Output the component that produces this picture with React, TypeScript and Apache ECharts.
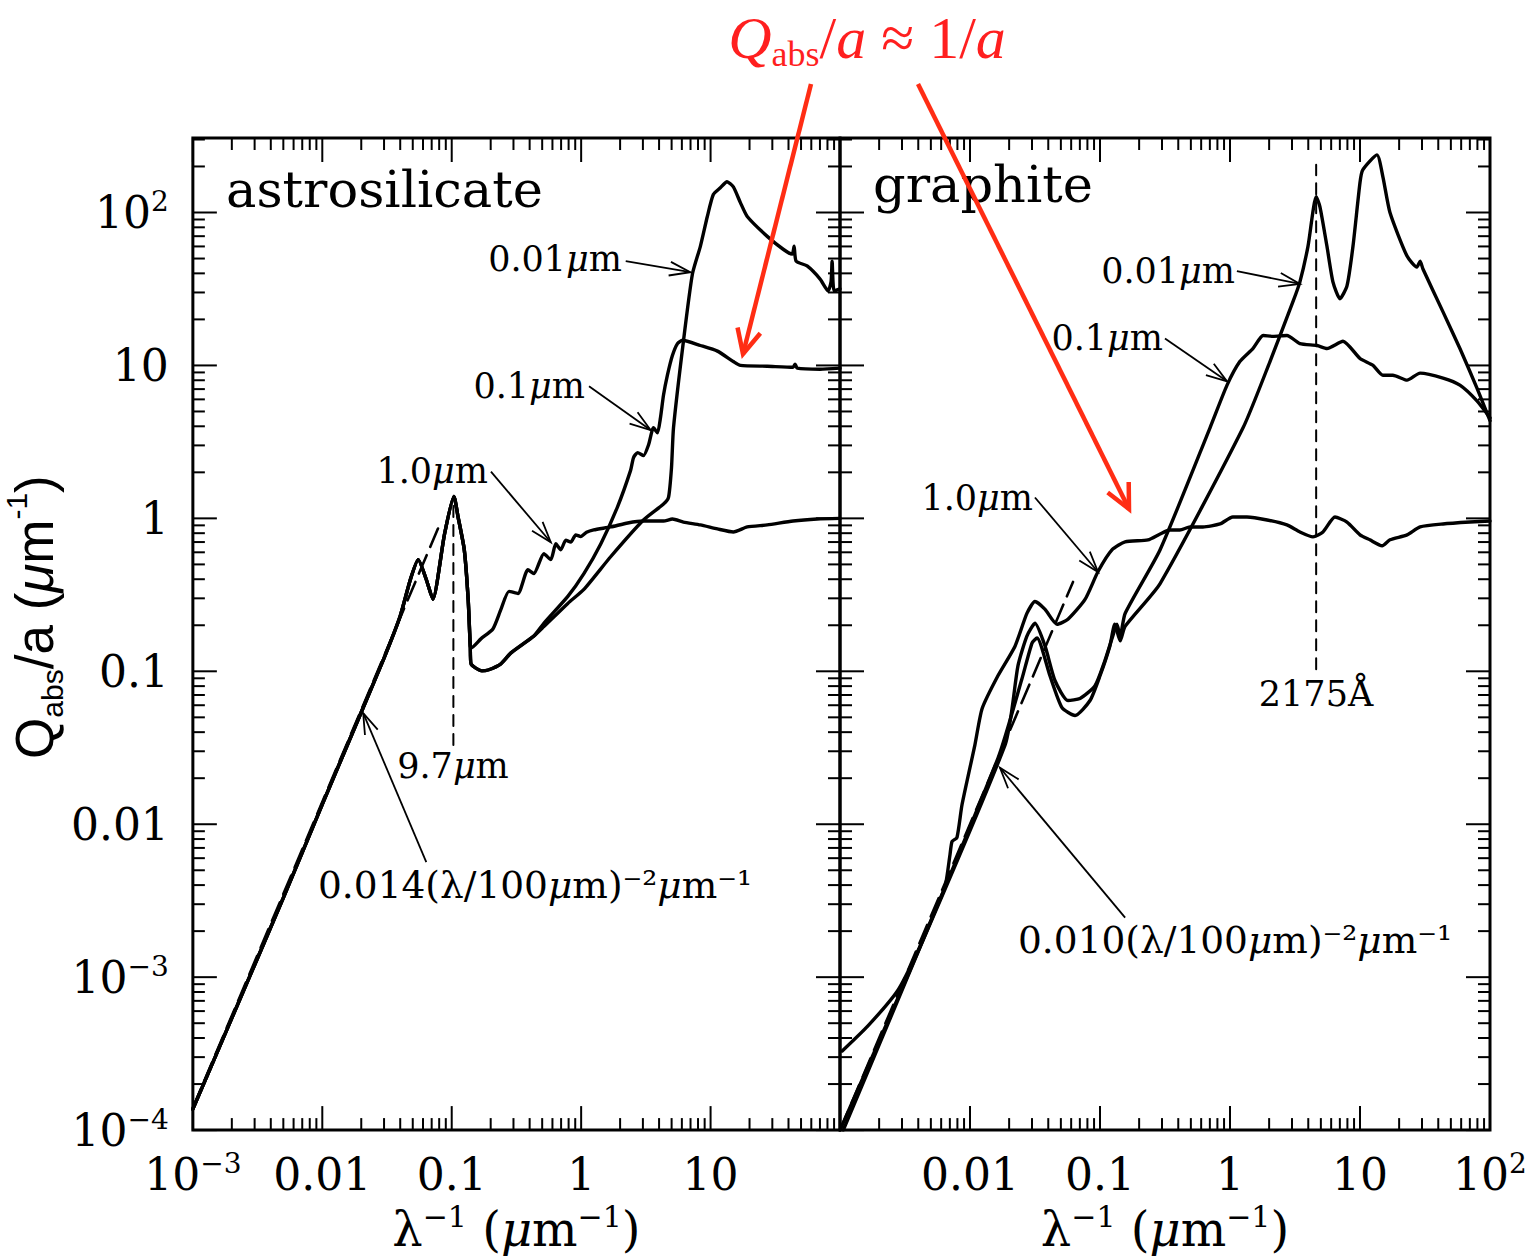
import React, { useEffect, useRef } from "react";
import * as echarts from "echarts";

// ---------- axis structure ----------
const X_MIN = 0.001;
const X_MAX = 100;
const Y_MIN = 1e-4;
const Y_MAX = 307;

const majorXTicks = [0.001, 0.01, 0.1, 1, 10, 100];
const majorYTicks = [1e-4, 1e-3, 0.01, 0.1, 1, 10, 100];
const minorTickSteps = [2, 3, 4, 5, 6, 7, 8, 9];
const leftXTickLabels = ["{b|10}{s|−3}", "{b|0.01}", "{b|0.1}", "{b|1}", "{b|10}", ""];
const rightXTickLabels = ["", "{b|0.01}", "{b|0.1}", "{b|1}", "{b|10}", "{b|10}{s|2}"];
const yTickLabels = ["{b|10}{s|−4}", "{b|10}{s|−3}", "{b|0.01}", "{b|0.1}", "{b|1}", "{b|10}", "{b|10}{s|2}"];

// ---------- astrosilicate (x = 1/lambda in um^-1, y = Qabs/a in um^-1) ----------
const silicateShared = [
  [0.001, 1.37e-4], [0.002, 5.4e-4], [0.005, 0.0033], [0.01, 0.0135], [0.02, 0.054],
  [0.03, 0.122], [0.04, 0.23], [0.048, 0.4], [0.0551, 0.537], [0.0635, 0.4], [0.0715, 0.296],
  [0.088, 0.79], [0.104, 1.39], [0.112, 1.02], [0.125, 0.624], [0.134, 0.295], [0.139, 0.146],
];
const silicateSmallShared = [
  [0.141, 0.112], [0.171, 0.1007], [0.191, 0.102], [0.24, 0.112], [0.287, 0.132], [0.431, 0.17],
];
const silicate1um = [
  [0.141, 0.142], [0.168, 0.163], [0.208, 0.189], [0.24, 0.254], [0.277, 0.333], [0.325, 0.323],
  [0.388, 0.462], [0.431, 0.435], [0.515, 0.587], [0.583, 0.537], [0.637, 0.682], [0.696, 0.623],
  [0.761, 0.72], [0.832, 0.7], [0.908, 0.78], [0.993, 0.76], [1.1, 0.81], [1.25, 0.84], [1.69, 0.879],
  [2.29, 0.933], [3.03, 0.961], [4.33, 0.961], [5.07, 0.99], [6.17, 0.946], [8.34, 0.906],
  [11.3, 0.853], [15.0, 0.815], [19.2, 0.879], [27.4, 0.906], [43.4, 0.961], [66.5, 0.99], [100, 1.0],
];
const silicate01um = [
  [0.515, 0.206], [0.789, 0.309], [1.05, 0.435], [1.42, 0.683], [1.91, 1.19], [2.41, 2.06],
  [2.54, 2.5], [2.73, 2.69], [3.03, 2.57], [3.32, 3.03], [3.62, 3.91], [3.89, 3.63], [4.1, 4.54],
  [4.33, 6.4], [4.64, 8.63], [5.07, 11.6], [5.55, 13.9], [6.06, 14.6], [8.34, 13.5], [11.3, 12.4],
  [15.0, 10.6], [17.0, 10.0], [27.4, 9.88], [43.4, 9.73], [45.0, 10.2], [46.7, 9.6], [70.2, 9.45],
  [100, 9.6],
];
const silicate001um = [
  [0.515, 0.196], [0.789, 0.278], [1.05, 0.343], [1.69, 0.561], [3.03, 0.975], [4.33, 1.24],
  [4.73, 1.37], [4.99, 2.15], [5.17, 3.91], [6.17, 14.4], [7.24, 39.6], [8.34, 60.1], [9.44, 94.2],
  [10.5, 131], [11.9, 145], [13.4, 159], [15.0, 147], [17.0, 116], [19.2, 94.2], [27.4, 69.8],
  [36.4, 57.5], [42.7, 53.4], [44.2, 60.1], [45.8, 48.1], [55.7, 44.7], [70.2, 36.7], [80.9, 30.7],
  [85.3, 35.2], [86.9, 48.1], [90.0, 30.7], [100, 31.7],
];
const silicatePowerLaw = [[0.001, 1.4e-4], [0.08, 0.896]];
const silicate97Marker = [[0.103, 0.033], [0.103, 1.39]];

// ---------- graphite ----------
const graphite1um = [
  [0.00104, 3.29e-4], [0.00164, 4.8e-4], [0.00279, 8.22e-4], [0.00398, 1.49e-3], [0.00538, 2.72e-3],
  [0.00643, 3.9e-3], [0.00702, 6.35e-3], [0.00728, 7.72e-3], [0.00794, 8.19e-3], [0.00868, 0.0134],
  [0.0109, 0.0329], [0.0124, 0.0571], [0.0164, 0.0935], [0.0222, 0.146], [0.0274, 0.239],
  [0.0316, 0.286], [0.0378, 0.254], [0.0467, 0.203], [0.0567, 0.219], [0.0767, 0.295],
  [0.0966, 0.449], [0.124, 0.624], [0.156, 0.703], [0.234, 0.724], [0.29, 0.791], [0.345, 0.839],
  [0.412, 0.839], [0.492, 0.879], [0.619, 0.879], [0.838, 0.919], [1.05, 1.02], [1.35, 1.02],
  [1.93, 0.976], [2.74, 0.906], [3.45, 0.815], [4.35, 0.757], [5.19, 0.815], [6.42, 1.02],
  [7.94, 0.946], [10, 0.78], [11.9, 0.724], [14.8, 0.662], [17.0, 0.724], [23.0, 0.78],
  [29.0, 0.879], [43.5, 0.919], [70.2, 0.946], [100, 0.961],
];
const graphite01um = [
  [0.001, 1.0e-4], [0.0186, 0.0329], [0.0234, 0.109], [0.0274, 0.17], [0.0316, 0.206],
  [0.0378, 0.146], [0.0451, 0.0867], [0.0567, 0.0644], [0.0702, 0.0664], [0.0916, 0.0805],
  [0.109, 0.117], [0.124, 0.165], [0.135, 0.203], [0.143, 0.17], [0.156, 0.239], [0.29, 0.624],
  [0.702, 3.91], [0.949, 7.43], [1.19, 10.6], [1.5, 12.9], [1.8, 15.7], [2.14, 15.5], [2.74, 15.7],
  [3.45, 13.9], [4.67, 13.5], [5.57, 12.9], [7.4, 14.4], [10, 11.1], [12.6, 10.0], [15.0, 8.63],
  [17.9, 8.63], [23.0, 8.01], [29.0, 8.9], [43.5, 8.26], [58.7, 7.43], [79.4, 5.86], [100, 4.54],
];
const graphite001um = [
  [0.00106, 1.0e-4], [0.0164, 0.027], [0.0251, 0.0893], [0.03, 0.153], [0.0328, 0.165],
  [0.0412, 0.0935], [0.051, 0.0579], [0.0643, 0.0514], [0.0838, 0.0644], [0.1, 0.0935],
  [0.119, 0.146], [0.13, 0.203], [0.143, 0.158], [0.156, 0.197], [0.29, 0.375], [1.26, 3.91],
  [2.03, 10.6], [3.05, 26.1], [3.45, 35.2], [3.98, 60.1], [4.6, 127], [4.92, 109], [5.57, 60.1],
  [6.19, 35.2], [7.01, 27.3], [7.94, 33.1], [8.83, 60.1], [10, 157], [10.5, 190], [13.5, 238],
  [15.0, 171], [17.0, 100], [23.0, 51.9], [27.4, 44.0], [29.0, 48.1], [30.5, 42.7], [43.5, 22.4],
  [58.7, 12.9], [79.4, 7.11], [100, 4.35],
];
const graphitePowerLaw = [[0.001, 1.0e-4], [0.062, 0.384]];
const graphite2175Marker = [[4.6, 0.103], [4.6, 205]];

// ---------- annotation arrows (tail x, tail y, head x, head y in data units) ----------
const silicateArrows = [
  [2.21, 48.1, 6.98, 40.7],
  [1.15, 7.31, 3.44, 3.78],
  [0.201, 2.02, 0.583, 0.698],
  [0.0636, 0.00566, 0.0207, 0.0533],
];
const graphiteArrows = [
  [1.13, 41.4, 3.45, 34.1],
  [0.316, 15.0, 0.949, 7.87],
  [0.0316, 1.37, 0.0966, 0.446],
  [0.156, 0.00245, 0.017, 0.0234],
];

const SERIF = "'DejaVu Serif', 'Liberation Serif', serif";
const SANS = "'Liberation Sans', 'DejaVu Sans', sans-serif";
const TIMES = "'Liberation Serif', 'DejaVu Serif', serif";
const RED_TEXT = "#ff1f1f";
const RED_LINE = "#ff2d14";
const CURVE_WIDTH = 3.4;

function labelFormatter(labels: string[], offset: number) {
  return (v: number) => {
    const e = Math.log10(v);
    const r = Math.round(e);
    if (Math.abs(e - r) > 1e-4) return "";
    return labels[r + offset] ?? "";
  };
}

function buildTickData() {
  const d: number[][] = [];
  for (const v of majorXTicks) d.push([v, Y_MIN, 0, 1]);
  for (let e = -3; e < 2; e++) for (const m of minorTickSteps) d.push([m * Math.pow(10, e), Y_MIN, 0, 0]);
  for (const v of majorYTicks) d.push([X_MIN, v, 1, 1]);
  for (let e = -4; e <= 2; e++)
    for (const m of minorTickSteps) {
      const v = m * Math.pow(10, e);
      if (v < Y_MAX) d.push([X_MIN, v, 1, 0]);
    }
  return d;
}

function headPoints(x1: number, y1: number, x2: number, y2: number, L: number, half: number) {
  const ang = Math.atan2(y2 - y1, x2 - x1);
  return [
    [x2 - L * Math.cos(ang - half), y2 - L * Math.sin(ang - half)],
    [x2, y2],
    [x2 - L * Math.cos(ang + half), y2 - L * Math.sin(ang + half)],
  ];
}

function tickSeries(idx: number) {
  return {
    type: "custom",
    xAxisIndex: idx,
    yAxisIndex: idx,
    data: buildTickData(),
    encode: { x: 0, y: 1 },
    silent: true,
    clip: false,
    z: 6,
    renderItem: (_p: any, api: any) => {
      const kind = api.value(2);
      const len = api.value(3) ? 24 : 12;
      const st = { stroke: "#000", lineWidth: 2 };
      if (kind === 0) {
        const v = api.value(0);
        const b = api.coord([v, Y_MIN]);
        const t = api.coord([v, Y_MAX]);
        return {
          type: "group",
          children: [
            { type: "line", shape: { x1: b[0], y1: b[1], x2: b[0], y2: b[1] - len }, style: st },
            { type: "line", shape: { x1: t[0], y1: t[1], x2: t[0], y2: t[1] + len }, style: st },
          ],
        };
      }
      const v = api.value(1);
      const l = api.coord([X_MIN, v]);
      const r = api.coord([X_MAX, v]);
      return {
        type: "group",
        children: [
          { type: "line", shape: { x1: l[0], y1: l[1], x2: l[0] + len, y2: l[1] }, style: st },
          { type: "line", shape: { x1: r[0], y1: r[1], x2: r[0] - len, y2: r[1] }, style: st },
        ],
      };
    },
  };
}

function arrowSeries(idx: number, data: number[][]) {
  return {
    type: "custom",
    xAxisIndex: idx,
    yAxisIndex: idx,
    data,
    encode: { x: [0, 2], y: [1, 3] },
    silent: true,
    clip: false,
    z: 7,
    renderItem: (_p: any, api: any) => {
      const a = api.coord([api.value(0), api.value(1)]);
      const b = api.coord([api.value(2), api.value(3)]);
      const pts = headPoints(a[0], a[1], b[0], b[1], 22, 0.32);
      const st = { stroke: "#000", lineWidth: 1.8, fill: null };
      return {
        type: "group",
        children: [
          { type: "line", shape: { x1: a[0], y1: a[1], x2: b[0], y2: b[1] }, style: st },
          { type: "polyline", shape: { points: pts }, style: st },
        ],
      };
    },
  };
}

function curve(idx: number, data: number[][], width = CURVE_WIDTH, dash: any = "solid", smooth = 0.2) {
  return {
    type: "line",
    xAxisIndex: idx,
    yAxisIndex: idx,
    data,
    symbol: "none",
    showSymbol: false,
    silent: true,
    smooth,
    z: 3,
    lineStyle: { color: "#000", width, type: dash, join: "round", cap: "round" },
  };
}

const muRich = (size: number) => ({
  n: { fontFamily: SERIF, fontSize: size, fill: "#000" },
  mu: { fontFamily: SERIF, fontSize: size, fontStyle: "italic", fill: "#000" },
});

function muLabel(x: number, y: number, value: string, align: string) {
  return {
    type: "text",
    x,
    y,
    z: 20,
    silent: true,
    style: {
      text: `{n|${value}}{mu|μ}{n|m}`,
      rich: muRich(35),
      align,
      verticalAlign: "middle",
    },
  };
}

function powerLawLabel(x: number, y: number, coef: string) {
  return {
    type: "text",
    x,
    y,
    z: 20,
    silent: true,
    style: {
      text: `{n|${coef}(λ/100}{mu|μ}{n|m)⁻²}{mu|μ}{n|m⁻¹}`,
      rich: muRich(37.5),
      align: "left",
      verticalAlign: "middle",
    },
  };
}

function plainLabel(x: number, y: number, text: string, size: number, align: string) {
  return {
    type: "text",
    x,
    y,
    z: 20,
    silent: true,
    style: { text, fontFamily: SERIF, fontSize: size, fill: "#000", align, verticalAlign: "middle" },
  };
}

function redArrow(x1: number, y1: number, x2: number, y2: number) {
  const st = { stroke: RED_LINE, lineWidth: 4.5, fill: null, lineCap: "butt", lineJoin: "miter" };
  return [
    { type: "line", z: 30, silent: true, shape: { x1, y1, x2, y2 }, style: st },
    { type: "polyline", z: 30, silent: true, shape: { points: headPoints(x1, y1, x2, y2, 27, 0.45) }, style: st },
  ];
}

function buildOption() {
  const xName = "{n|λ}{sup|−1}{n| (}{mu|μ}{n|m}{sup|−1}{n|)}";
  const xNameStyle = {
    rich: {
      n: { fontFamily: SERIF, fontSize: 48, lineHeight: 56, color: "#000" },
      mu: { fontFamily: SERIF, fontSize: 48, lineHeight: 56, fontStyle: "italic", color: "#000" },
      sup: { fontFamily: SERIF, fontSize: 30, lineHeight: 30, verticalAlign: "top", color: "#000" },
    },
  };
  const labelRich = {
    b: { fontFamily: SERIF, fontSize: 44, lineHeight: 50, color: "#000" },
    s: { fontFamily: SERIF, fontSize: 28, lineHeight: 28, verticalAlign: "top", color: "#000" },
  };
  const axisLabelBase = { fontFamily: SERIF, fontSize: 44, color: "#000", showMinLabel: true, showMaxLabel: true, rich: labelRich };
  const hidden = { axisLine: { show: false }, axisTick: { show: false }, splitLine: { show: false }, minorTick: { show: false } };

  return {
    animation: false,
    backgroundColor: "#ffffff",
    textStyle: { fontFamily: SERIF },
    grid: [
      { left: 191, top: 138, width: 649, height: 999, show: true, borderColor: "#000", borderWidth: 3, backgroundColor: "transparent" },
      { left: 840, top: 138, width: 650, height: 999, show: true, borderColor: "#000", borderWidth: 3, backgroundColor: "transparent" },
    ],
    xAxis: [
      {
        gridIndex: 0, type: "log", logBase: 10, min: X_MIN, max: X_MAX, ...hidden,
        axisLabel: { ...axisLabelBase, margin: 19, formatter: labelFormatter(leftXTickLabels, 3) },
        name: xName, nameLocation: "middle", nameGap: 70, nameTextStyle: xNameStyle,
      },
      {
        gridIndex: 1, type: "log", logBase: 10, min: X_MIN, max: X_MAX, ...hidden,
        axisLabel: { ...axisLabelBase, margin: 19, formatter: labelFormatter(rightXTickLabels, 3) },
        name: xName, nameLocation: "middle", nameGap: 70, nameTextStyle: xNameStyle,
      },
    ],
    yAxis: [
      {
        gridIndex: 0, type: "log", logBase: 10, min: Y_MIN, max: Y_MAX, ...hidden,
        axisLabel: { ...axisLabelBase, margin: 24, formatter: labelFormatter(yTickLabels, 4) },
        name: "{q|Q}{s|abs}{q|/a (}{mu|μ}{q|m}{sup|-1}{q|)}",
        nameLocation: "middle",
        nameRotate: 90,
        nameGap: 104,
        nameTextStyle: {
          padding: [0, 0, 0, 34],
          rich: {
            q: { fontFamily: SANS, fontSize: 53, lineHeight: 66, color: "#000" },
            mu: { fontFamily: SANS, fontSize: 53, lineHeight: 66, fontStyle: "italic", color: "#000" },
            s: { fontFamily: SANS, fontSize: 30, lineHeight: 30, verticalAlign: "bottom", color: "#000" },
            sup: { fontFamily: SANS, fontSize: 30, lineHeight: 30, verticalAlign: "top", color: "#000" },
          },
        },
      },
      {
        gridIndex: 1, type: "log", logBase: 10, min: Y_MIN, max: Y_MAX, ...hidden,
        axisLabel: { show: false },
      },
    ],
    series: [
      curve(0, silicatePowerLaw, 2.6, [20, 9], 0),
      curve(0, silicate97Marker, 2, [11, 8], 0),
      curve(0, [...silicateShared, ...silicate1um]),
      curve(0, [...silicateShared, ...silicateSmallShared, ...silicate01um]),
      curve(0, [...silicateShared, ...silicateSmallShared, ...silicate001um]),
      curve(1, graphitePowerLaw, 2.6, [20, 9], 0),
      curve(1, graphite2175Marker, 2, [11, 8], 0),
      curve(1, graphite1um),
      curve(1, graphite01um),
      curve(1, graphite001um),
      tickSeries(0),
      tickSeries(1),
      arrowSeries(0, silicateArrows),
      arrowSeries(1, graphiteArrows),
    ],
    graphic: [
      plainLabel(226, 189, "astrosilicate", 51, "left"),
      plainLabel(873, 184, "graphite", 51, "left"),
      muLabel(622, 259, "0.01", "right"),
      muLabel(585, 386, "0.1", "right"),
      muLabel(488, 471, "1.0", "right"),
      muLabel(453, 766, "9.7", "center"),
      powerLawLabel(318, 885, "0.014"),
      muLabel(1235, 271, "0.01", "right"),
      muLabel(1163, 338, "0.1", "right"),
      muLabel(1033, 498, "1.0", "right"),
      plainLabel(1316, 694, "2175Å", 35, "center"),
      powerLawLabel(1018, 940, "0.010"),
      {
        type: "text",
        x: 867,
        y: 38,
        z: 30,
        silent: true,
        style: {
          text: "{it|Q}{sub|abs}{r|/}{it|a}{r| ≈ 1/}{it|a}",
          align: "center",
          verticalAlign: "middle",
          rich: {
            it: { fontFamily: TIMES, fontSize: 60, fontStyle: "italic", fill: RED_TEXT, lineHeight: 68 },
            r: { fontFamily: TIMES, fontSize: 60, fill: RED_TEXT, lineHeight: 68 },
            sub: { fontFamily: TIMES, fontSize: 36, fill: RED_TEXT, lineHeight: 32, verticalAlign: "bottom" },
          },
        },
      },
      ...redArrow(811, 84, 743, 354),
      ...redArrow(918, 84, 1129, 509),
    ],
  };
}

export default function App() {
  const ref = useRef<HTMLDivElement>(null);
  useEffect(() => {
    if (!ref.current) return;
    const chart = echarts.init(ref.current, null, { renderer: "svg" });
    chart.setOption(buildOption() as any);
    return () => chart.dispose();
  }, []);
  return (
    <div
      ref={ref}
      style={{ position: "fixed", left: 0, top: 0, width: 1534, height: 1258, background: "#fff" }}
    />
  );
}
